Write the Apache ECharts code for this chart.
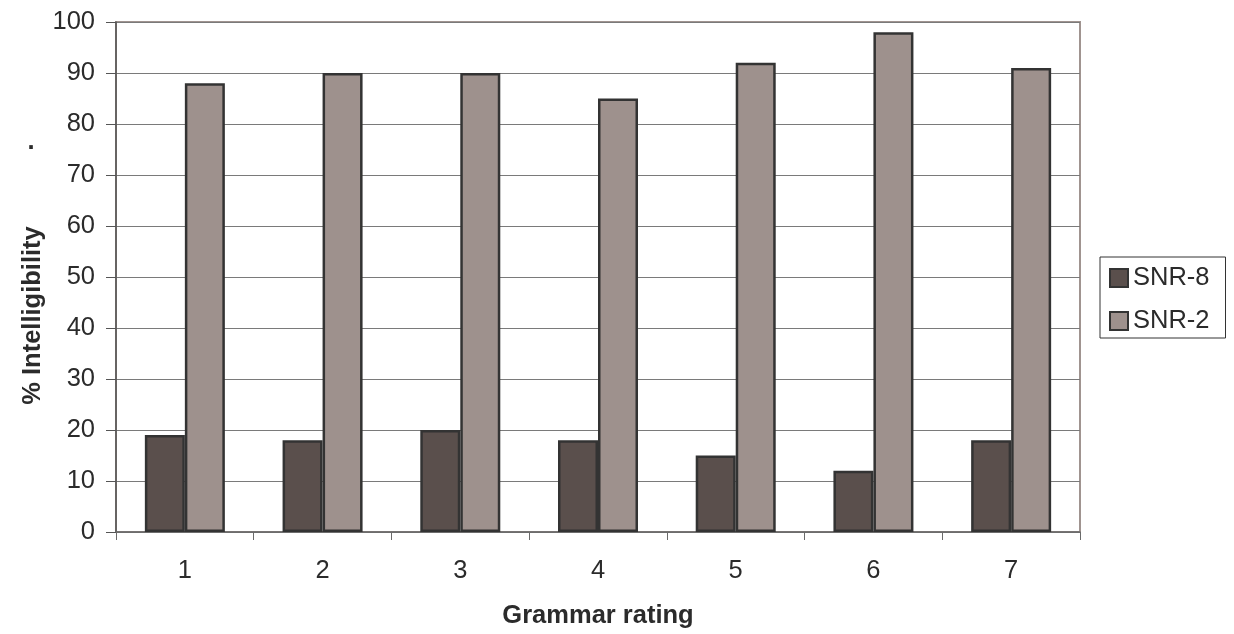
<!DOCTYPE html>
<html><head><meta charset="utf-8">
<script src="https://cdn.jsdelivr.net/npm/echarts@6/dist/echarts.min.js"></script>
<style>html,body{margin:0;padding:0;background:#fff}#c{width:1234px;height:634px}</style>
</head><body><div id="c"></div>
<script>
var categories = ['1','2','3','4','5','6','7'];
var snr8 = [19, 18, 20, 18, 15, 12, 18];
var snr2 = [88, 90, 90, 85, 92, 98, 91];
var seriesNames = ['SNR-8', 'SNR-2'];
var yTitle = '% Intelligibility';
var yTitleMark = '.';
var xTitle = 'Grammar rating';

var chart = echarts.init(document.getElementById('c'));
var font = 'Liberation Sans, Arial, sans-serif';
var txt = '#2b2b2b';
chart.setOption({
  animation: false,
  textStyle: {fontFamily: font},
  grid: {left: 116, right: 154, top: 22, bottom: 100, show: true, borderColor: '#a09490', borderWidth: 2, backgroundColor: 'transparent'},
  legend: {
    orient: 'vertical', left: 1100, top: 257,
    borderColor: '#333', borderWidth: 1, padding: [8, 16, 4, 9], itemGap: 17,
    itemWidth: 18, itemHeight: 18, icon: 'rect',
    textStyle: {fontSize: 25.5, color: txt, fontFamily: font},
    data: seriesNames
  },
  graphic: [
    {type: 'text', x: 33, y: 315.5, rotation: Math.PI / 2,
     style: {text: yTitle, fontSize: 25.5, fontWeight: 'bold', fontFamily: font, fill: txt, textAlign: 'center', textVerticalAlign: 'middle'}},
    {type: 'text', x: 31, y: 142,
     style: {text: yTitleMark, fontSize: 25.5, fontWeight: 'bold', fontFamily: font, fill: txt, textAlign: 'center', textVerticalAlign: 'middle'}}
  ],
  xAxis: {
    type: 'category', data: categories,
    axisLine: {lineStyle: {color: '#6a6a6a', width: 1.5}},
    axisTick: {show: true, length: 8, lineStyle: {color: '#6a6a6a'}},
    axisLabel: {fontSize: 25.5, color: txt, margin: 26},
    name: xTitle, nameLocation: 'middle', nameGap: 71,
    nameTextStyle: {fontSize: 25.5, fontWeight: 'bold', color: txt}
  },
  yAxis: {
    type: 'value', min: 0, max: 100, interval: 10,
    axisLine: {show: true, lineStyle: {color: '#555', width: 1.5}},
    axisTick: {show: true, length: 10, lineStyle: {color: '#555'}},
    axisLabel: {fontSize: 25.5, color: txt, margin: 21},
    splitLine: {lineStyle: {color: '#7a7a7a', width: 1.2}}
  },
  series: [
    {name: seriesNames[0], type: 'bar', data: snr8, barWidth: 40, barGap: '0%',
     itemStyle: {color: '#5a4f4c', borderColor: '#333', borderWidth: 2.5}},
    {name: seriesNames[1], type: 'bar', data: snr2, barWidth: 40, barGap: '0%',
     itemStyle: {color: '#9e918d', borderColor: '#333', borderWidth: 2.5}}
  ]
});
</script></body></html>
